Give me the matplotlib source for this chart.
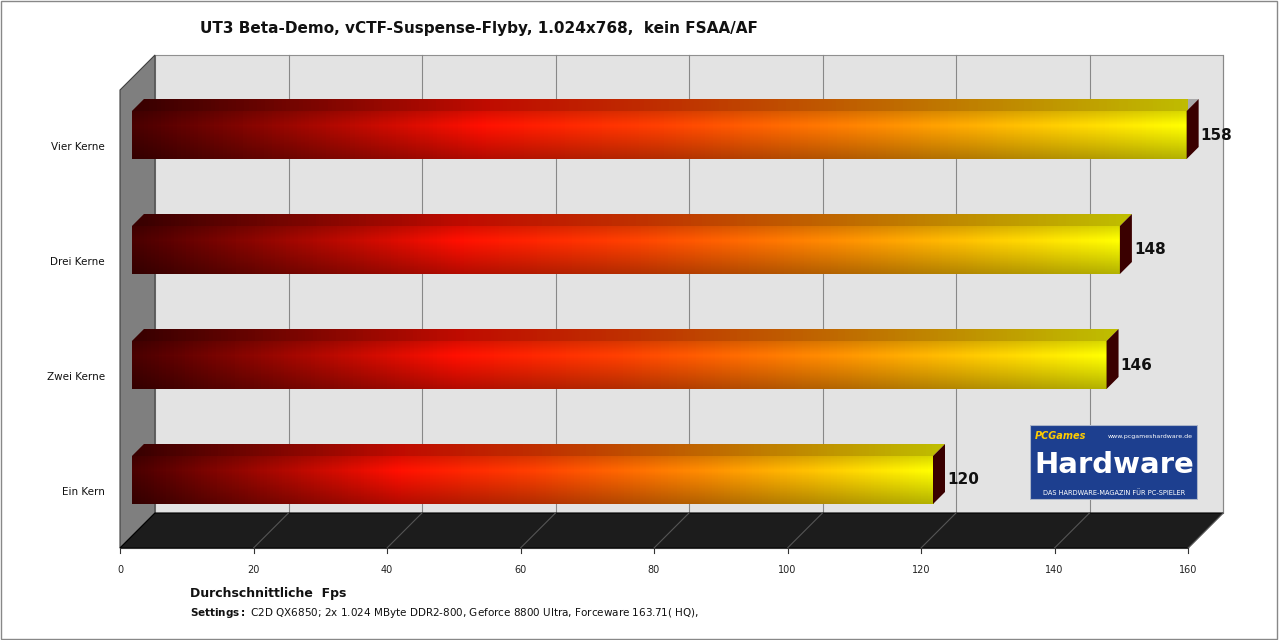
import matplotlib.pyplot as plt
import numpy as np
from matplotlib.colors import LinearSegmentedColormap, ListedColormap
from matplotlib.patches import Polygon, Rectangle

categories = ['Ein Kern', 'Zwei Kerne', 'Drei Kerne', 'Vier Kerne']
values = [120, 146, 148, 158]
ticks = [0, 20, 40, 60, 80, 100, 120, 140, 160]

fig = plt.figure(figsize=(12.8, 6.4), dpi=100)
fig.patch.set_facecolor('white')
# front plane of the 3d box: x 120..1188 px, y 90..548 px (from top)
ax = fig.add_axes([120/1280, 1-548/640, (1188-120)/1280, (548-90)/640])
xmax = 160
ylo, yhi = -68/115, 390/115
ax.set_xlim(0, xmax)
ax.set_ylim(ylo, yhi)
ax.axis('off')

ux = xmax / (1188-120)   # data units per pixel
uy = 1 / 115
D = 35                    # wall depth px
dX, dY = D*ux, D*uy

# left wall
ax.add_patch(Polygon([(0, ylo), (dX, ylo+dY), (dX, yhi+dY), (0, yhi)],
                     closed=True, fc='#7f7f7f', ec='#404040', lw=0.8, clip_on=False))
# back wall
ax.add_patch(Polygon([(dX, ylo+dY), (xmax+dX, ylo+dY), (xmax+dX, yhi+dY), (dX, yhi+dY)],
                     closed=True, fc='#e3e3e3', ec='#909090', lw=0.8, clip_on=False, zorder=0))
for t in ticks[1:]:
    ax.plot([t+dX, t+dX], [ylo+dY, yhi+dY], color='#888888', lw=0.8, clip_on=False, zorder=1)
# floor
ax.add_patch(Polygon([(0, ylo), (xmax, ylo), (xmax+dX, ylo+dY), (dX, ylo+dY)],
                     closed=True, fc='#1c1c1c', ec='#000000', lw=0.8, clip_on=False, zorder=2))
for t in ticks[1:]:
    ax.plot([t, t+dX], [ylo, ylo+dY], color='#555555', lw=0.8, clip_on=False, zorder=2)
ax.plot([0, xmax], [ylo, ylo], color='#333333', lw=0.8, clip_on=False, zorder=2)
for t in ticks:
    ax.plot([t, t], [ylo, ylo-5*uy], color='#333333', lw=0.8, clip_on=False)
    ax.text(t, ylo-22*uy, str(t), ha='center', va='center', fontsize=7, color='#222222')

cmap = LinearSegmentedColormap.from_list('fire', [
    (0.0, '#4a0000'), (0.33, '#ff1000'), (0.5, '#ff4000'),
    (0.72, '#ff9000'), (1.0, '#ffff00')])
grad = np.linspace(0, 1, 256).reshape(1, -1)
shade = np.concatenate([np.linspace(0.15, 0.0, 15), np.linspace(0.0, 0.3, 35)]).reshape(-1, 1)
black = ListedColormap(['black'])

h = 48*uy
bx0 = 12*ux
d = 12
ddx, ddy = d*ux, d*uy
for i, (c, v) in enumerate(zip(categories, values)):
    y0, y1 = i - h/2, i + h/2
    xe = bx0 + v
    # top face
    top = Polygon([(bx0, y1), (xe, y1), (xe+ddx, y1+ddy), (bx0+ddx, y1+ddy)],
                  closed=True, fc='none', ec='none')
    ax.add_patch(top)
    im = ax.imshow(grad, cmap=cmap, aspect='auto', extent=[bx0, xe+ddx, y1, y1+ddy], zorder=3)
    im.set_clip_path(top)
    ax.add_patch(Polygon([(bx0, y1), (xe, y1), (xe+ddx, y1+ddy), (bx0+ddx, y1+ddy)],
                         closed=True, fc='black', alpha=0.25, ec='none', zorder=4, clip_on=False))
    # front face
    im2 = ax.imshow(grad, cmap=cmap, aspect='auto', extent=[bx0, xe, y0, y1], zorder=4)
    im2.set_clip_on(False)
    im3 = ax.imshow(np.zeros_like(shade), cmap=black, alpha=shade, aspect='auto',
                    extent=[bx0, xe, y0, y1], zorder=4.5)
    im3.set_clip_on(False)
    # end face
    ax.add_patch(Polygon([(xe, y0), (xe+ddx, y0+ddy), (xe+ddx, y1+ddy), (xe, y1)],
                         closed=True, fc='#3a0000', ec='none', zorder=5, clip_on=False))
    ax.text(xe+ddx+2*ux, i, str(v), ha='left', va='center', fontsize=11,
            fontweight='bold', color='#111111', zorder=6)
    ax.text(-15*ux, i-12*uy, c, ha='right', va='center', fontsize=7.5, color='#111111')
ax.set_xlim(0, xmax)
ax.set_ylim(ylo, yhi)

# logo
lg = fig.add_axes([1030/1280, 1-500/640, 168/1280, 75/640])
lg.set_xlim(0, 1); lg.set_ylim(0, 1); lg.axis('off')
lg.add_patch(Rectangle((0, 0), 1, 1, fc='#1d3f8f', ec='#aab4c8', lw=1.5))
lg.text(0.03, 0.85, 'PCGames', color='#ffcc00', fontsize=7, fontweight='bold', style='italic', va='center')
lg.text(0.97, 0.85, 'www.pcgameshardware.de', color='white', fontsize=4.5, ha='right', va='center')
lg.text(0.5, 0.47, 'Hardware', color='white', fontsize=21, fontweight='bold', ha='center', va='center')
lg.text(0.5, 0.1, 'DAS HARDWARE-MAGAZIN FÜR PC-SPIELER', color='white', fontsize=4.8,
        ha='center', va='center')

fig.text(200/1280, 1-28/640, 'UT3 Beta-Demo, vCTF-Suspense-Flyby, 1.024x768,  kein FSAA/AF',
         fontsize=11, fontweight='bold', va='center', color='#111111')
fig.text(190/1280, 1-593/640, 'Durchschnittliche  Fps', fontsize=9, fontweight='bold',
         va='center', color='#111111')
fig.text(190/1280, 1-613/640, r'$\bf{Settings:}$ C2D QX6850; 2x 1.024 MByte DDR2-800, Geforce 8800 Ultra, Forceware 163.71( HQ),',
         fontsize=7.5, va='center', color='#111111')

fig.patches.append(Rectangle((0.001, 0.002), 0.997, 0.996, transform=fig.transFigure,
                             fill=False, ec='#888888', lw=1))
fig.savefig('out.png', dpi=100)
